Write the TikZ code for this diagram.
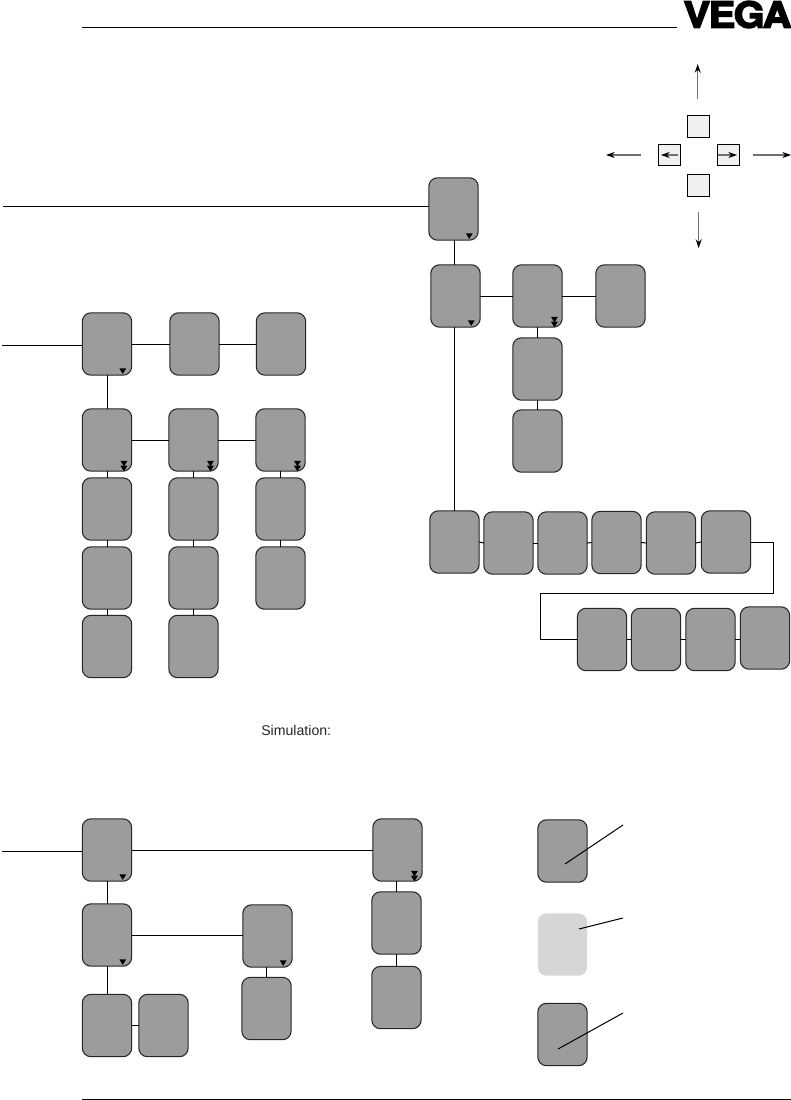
\documentclass[tikz,border=0pt]{standalone}
\usepackage{fontspec}
\setmainfont{Liberation Sans}
\newfontfamily\vegafont[FakeBold=4,LetterSpace=-3.5]{TeX Gyre Heros Bold}
\usetikzlibrary{arrows.meta}
\tikzset{
  x=0.75pt,y=-0.75pt,
  menu/.style={draw=black!85,line width=0.8pt,fill=boxgray,rounded corners=6.5pt,minimum width=37pt,minimum height=46.8pt,inner sep=0pt,outer sep=0pt},
  ghost/.style={menu,draw=none,fill=lightbox},
  keybox/.style={draw=black,line width=0.7pt,fill=keygray,minimum width=16.5pt,minimum height=16pt,inner sep=0pt,outer sep=0pt},
  link/.style={draw=black,line width=0.75pt},
  rule/.style={draw=black,line width=0.75pt},
  dir/.style={draw=arrowgray,line width=1pt,-{Stealth[length=6.5pt,width=4.5pt,black]}},
}
\definecolor{boxgray}{HTML}{9C9C9C}
\definecolor{lightbox}{HTML}{D6D6D6}
\definecolor{keygray}{HTML}{F0F0F0}
\definecolor{arrowgray}{HTML}{707070}
\newcommand{\onetri}[1]{\fill[black] ([xshift=11.8pt,yshift=-18.2pt]#1.center) ++(-2.6pt,0) -- ++(5.2pt,0) -- ++(-2.6pt,-4.2pt) -- cycle;}
\newcommand{\twotri}[1]{\fill[black] ([xshift=12.7pt,yshift=-15.6pt]#1.center) ++(-2.6pt,0) -- ++(5.2pt,0) -- ++(-2.6pt,-4.2pt) -- cycle;
\fill[black] ([xshift=12.7pt,yshift=-19.3pt]#1.center) ++(-2.6pt,0) -- ++(5.2pt,0) -- ++(-2.6pt,-4.2pt) -- cycle;}
\begin{document}
\begin{tikzpicture}
\useasboundingbox (0,0) rectangle (791,1100);
% header and footer
\coordinate (hl) at (82,27); \coordinate (hr) at (677,27);
\coordinate (fl) at (82,1099); \coordinate (fr) at (791,1099);
\draw[rule] (hl) -- (hr);
\draw[rule] (fl) -- (fr);
\node[inner sep=0pt,anchor=center] (logo) at (737.5,14.5) {\scalebox{1.06}[0.96]{\vegafont\fontsize{28pt}{28pt}\selectfont VEGA}};
% keys
\node[keybox] (ku) at (698.5,126.5) {};
\node[keybox] (kl) at (669,155) {};
\node[keybox] (kr) at (728.5,155) {};
\node[keybox] (kd) at (698.5,185.5) {};
\coordinate (au0) at (697.7,99); \coordinate (au1) at (697.7,64);
\coordinate (al0) at (641,155); \coordinate (al1) at (606,155);
\coordinate (ar0) at (753,155); \coordinate (ar1) at (791,155);
\coordinate (ad0) at (698.7,212); \coordinate (ad1) at (698.7,248);
\coordinate (il0) at (678,155); \coordinate (il1) at (661,155);
\coordinate (ir0) at (718,155); \coordinate (ir1) at (737,155);
\draw[dir] (au0) -- (au1);
\draw[dir] (al0) -- (al1);
\draw[dir] (ar0) -- (ar1);
\draw[dir] (ad0) -- (ad1);
\draw[dir] (il0) -- (il1);
\draw[dir] (ir0) -- (ir1);
% upper right tree
\node[menu] (A) at (453.5,209) {};
\node[menu] (B) at (455.5,296) {};
\node[menu] (C) at (537.5,296) {};
\node[menu] (D) at (620.5,296) {};
\node[menu] (E) at (537.5,369) {};
\node[menu] (F) at (537.5,441) {};
\node[menu] (R1) at (454.5,542) {};
\node[menu] (R2) at (508.5,543) {};
\node[menu] (R3) at (562.5,543) {};
\node[menu] (R4) at (616.5,542.5) {};
\node[menu] (R5) at (671,543) {};
\node[menu] (R6) at (726,542) {};
\node[menu] (S1) at (602,639.5) {};
\node[menu] (S2) at (656,639.5) {};
\node[menu] (S3) at (710.5,639.5) {};
\node[menu] (S4) at (765,638) {};
\coordinate (inA) at (3,206);
\draw[link] (inA) -- (inA -| A.west);
\draw[link] (A.south -| R1.north) -- (B.north -| R1.north);
\draw[link] (B.south -| R1.north) -- (R1.north);
\draw[link] (B) -- (C);
\draw[link] (C) -- (D);
\draw[link] (C.south) -- (E.north);
\draw[link] (E.south) -- (F.north);
\draw[link] (R1.east) -- (R2.west);
\draw[link] (R2.east) -- (R3.west);
\draw[link] (R3.east) -- (R4.west);
\draw[link] (R4.east) -- (R5.west);
\draw[link] (R5.east) -- (R6.west);
\coordinate (w1) at (773.5,593); \coordinate (w2) at (540.5,593);
\draw[link] (R6.east) -| (w1) -- (w2) |- (S1.west);
\draw[link] (S1.east) -- (S2.west);
\draw[link] (S2.east) -- (S3.west);
\draw[link] (S3.east) -- (S3.east -| S4.west);
\onetri{A}\onetri{B}\twotri{C}
% left tree
\node[menu] (a1) at (107,344) {};
\node[menu] (b1) at (194.5,344) {};
\node[menu] (c1) at (281,344) {};
\node[menu] (a2) at (107,440) {};
\node[menu] (b2) at (193.5,440) {};
\node[menu] (c2) at (280.5,440) {};
\node[menu] (a3) at (107,509) {};
\node[menu] (b3) at (193.5,509) {};
\node[menu] (c3) at (280.5,509) {};
\node[menu] (a4) at (107,578) {};
\node[menu] (b4) at (193.5,578) {};
\node[menu] (c4) at (280.5,578) {};
\node[menu] (a5) at (107,646.5) {};
\node[menu] (b5) at (193.5,646.5) {};
\coordinate (ina) at (2,345);
\draw[link] (ina) -- (ina -| a1.west);
\draw[link] (a1) -- (b1);
\draw[link] (b1) -- (c1);
\draw[link] (a1) -- (a2);
\draw[link] (a2) -- (b2);
\draw[link] (b2) -- (c2);
\draw[link] (a2) -- (a3);
\draw[link] (a3) -- (a4);
\draw[link] (a4) -- (a5);
\draw[link] (b2) -- (b3);
\draw[link] (b3) -- (b4);
\draw[link] (b4) -- (b5);
\draw[link] (c2) -- (c3);
\draw[link] (c3) -- (c4);
\onetri{a1}\twotri{a2}\twotri{b2}\twotri{c2}
\node[inner sep=0pt,anchor=west,text=black!85,font=\fontsize{10.6pt}{12pt}\selectfont] (simlabel) at (261,730) {Simulation:};
% bottom tree
\node[menu] (p1) at (107,850) {};
\node[menu] (q1) at (397.5,850) {};
\node[menu] (p2) at (107,935) {};
\node[menu] (r2) at (267.5,936) {};
\node[menu] (q2) at (396.5,923) {};
\node[menu] (q3) at (396.5,997.5) {};
\node[menu] (r3) at (266.5,1008.5) {};
\node[menu] (p3) at (107,1025.5) {};
\node[menu] (s3) at (163.5,1025.5) {};
\coordinate (inp) at (2,851);
\draw[link] (inp) -- (inp -| p1.west);
\draw[link] (p1) -- (q1);
\draw[link] (p1) -- (p2);
\draw[link] (p2.east) -- (p2.east -| r2.west);
\draw[link] (r2.south -| r3.north) -- (r3.north);
\draw[link] (q1.south -| q2.north) -- (q2.north);
\draw[link] (q2) -- (q3);
\draw[link] (p2) -- (p3);
\draw[link] (p3) -- (s3);
\onetri{p1}\onetri{p2}\onetri{r2}\twotri{q1}
% legend
\node[menu] (L1) at (562.5,851) {};
\node[ghost] (L2) at (562.5,944.5) {};
\node[menu] (L3) at (562.5,1034.5) {};
\coordinate (t1a) at (565,864); \coordinate (t1b) at (623,825);
\coordinate (t2a) at (579,929); \coordinate (t2b) at (623,918);
\coordinate (t3a) at (558,1049); \coordinate (t3b) at (623,1013);
\draw[link] (t1a) -- (t1b);
\draw[link] (t2a) -- (t2b);
\draw[link] (t3a) -- (t3b);
\end{tikzpicture}
\end{document}
